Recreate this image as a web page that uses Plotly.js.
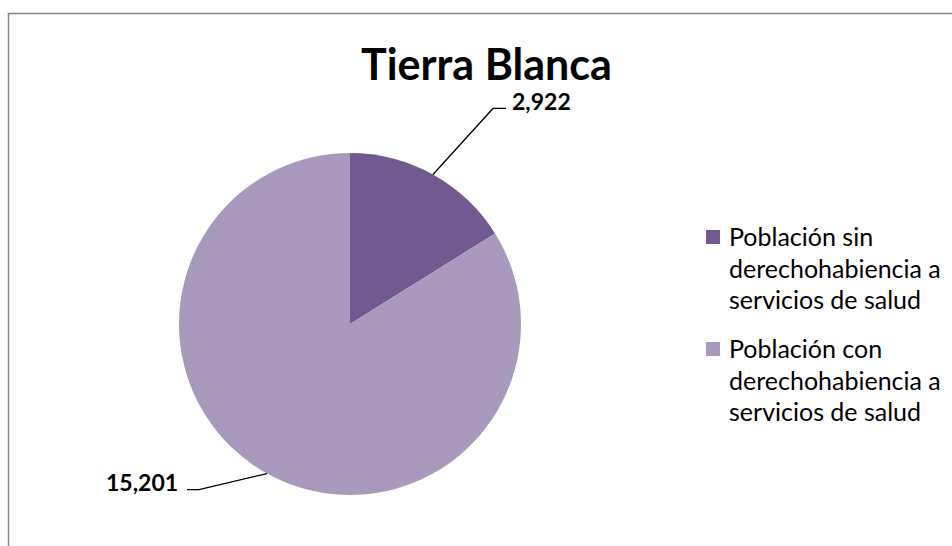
<!DOCTYPE html>
<html>
<head>
<meta charset="utf-8">
<script src="https://cdn.plot.ly/plotly-3.0.1.min.js"></script>
<style>html,body{margin:0;padding:0;background:#fff;}#chart{width:952px;height:546px;}</style>
</head>
<body>
<div id="chart"></div>
<script>
const chartTitle = 'Tierra Blanca';
const categories = ['Población sin<br>derechohabiencia a<br>servicios de salud', 'Población con<br>derechohabiencia a<br>servicios de salud'];
const values = [2922, 15201];
const valueLabels = ['2,922', '15,201'];
const colors = ['#72598F', '#A99ABD'];

const W = 952, H = 546;
const px = x => x / W, py = y => 1 - y / H;
// pie geometry (pixels)
const cx = 350, cy = 324, R = 171;
const domainX = [(cx - R) / W, (cx + R) / W];
const domainY = [1 - (cy + R) / H, 1 - (cy - R) / H];

const total = values.reduce((a, b) => a + b, 0);
const leader = [
  {elbow: [60, -66], end: [73, -66], text: [4, -7], anchor: 'left'},
  {elbow: [-68, 16], end: [-80, 16], text: [-7, -8], anchor: 'right'}
];
const shapes = [];
const annotations = [];
let cum = 0;
values.forEach((v, i) => {
  const mid = (cum + v / 2) / total * 2 * Math.PI;
  cum += v;
  const ex = cx + R * Math.sin(mid), ey = cy - R * Math.cos(mid);
  const L = leader[i];
  const bx = ex + L.elbow[0], by = ey + L.elbow[1];
  const fx = ex + L.end[0], fy = ey + L.end[1];
  shapes.push({type: 'path', xref: 'paper', yref: 'paper',
    path: `M${px(ex)},${py(ey)} L${px(bx)},${py(by)} L${px(fx)},${py(fy)}`,
    line: {color: '#000', width: 1.3}});
  annotations.push({xref: 'paper', yref: 'paper', x: px(fx + L.text[0]), y: py(fy + L.text[1]),
    xanchor: L.anchor, yanchor: 'middle', showarrow: false, text: '<b>' + valueLabels[i] + '</b>',
    font: {family: 'Lato, sans-serif', size: 23, color: '#000'}});
});

// manual legend (square + text lines)
const legTop = [230, 342], legSq = 14, legX = 706, legTextX = 727, lineGap = 31.5;
categories.forEach((c, i) => {
  shapes.push({type: 'rect', xref: 'paper', yref: 'paper',
    x0: px(legX), x1: px(legX + legSq), y0: py(legTop[i] + legSq), y1: py(legTop[i]),
    fillcolor: colors[i], line: {width: 0}});
  c.split('<br>').forEach((ln, j) => {
    annotations.push({xref: 'paper', yref: 'paper', x: px(legTextX), y: py(legTop[i] + 6 + j * lineGap),
      xanchor: 'left', yanchor: 'middle', showarrow: false, text: ln,
      font: {family: 'Lato, sans-serif', size: 25, color: '#000'}});
  });
});

shapes.push({type: 'rect', xref: 'paper', yref: 'paper', x0: 8.5 / W, x1: 1.02, y0: -0.02, y1: 1 - 13.5 / H,
  line: {color: '#868686', width: 1.5}, fillcolor: 'rgba(0,0,0,0)'});

const data = [{
  type: 'pie', labels: categories, values: values, sort: false, direction: 'clockwise', rotation: 0,
  marker: {colors: colors, line: {width: 0}}, textinfo: 'none', hoverinfo: 'none',
  domain: {x: domainX, y: domainY}
}];
const layout = {
  width: W, height: H, margin: {l: 0, r: 0, t: 0, b: 0},
  paper_bgcolor: '#fff', plot_bgcolor: '#fff',
  font: {family: 'Lato, sans-serif', color: '#000'},
  title: {text: '<b>' + chartTitle + '</b>', font: {family: 'Lato, sans-serif', size: 43, color: '#000'},
    x: 486.5 / W, xanchor: 'center', xref: 'paper', y: 1 - 65 / H, yanchor: 'middle', yref: 'container'},
  showlegend: false,
  shapes: shapes, annotations: annotations
};
Plotly.newPlot('chart', data, layout, {displayModeBar: false, staticPlot: true});
</script>
</body>
</html>
